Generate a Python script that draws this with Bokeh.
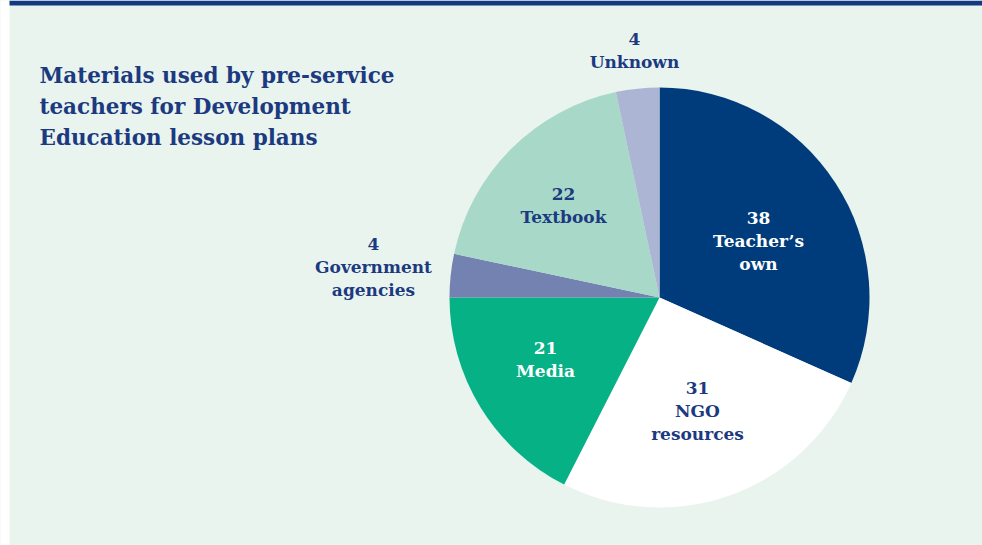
import numpy as np
from bokeh.plotting import figure
from bokeh.models import ColumnDataSource, Range1d
from bokeh.core.properties import value
from bokeh.embed import file_html
from bokeh.resources import INLINE

# ---- data ----
categories = ["Teacher’s own", "NGO resources", "Media", "Government agencies", "Textbook", "Unknown"]
counts = [38, 31, 21, 4, 22, 4]
label_lines = [["Teacher’s", "own"], ["NGO", "resources"], ["Media"],
               ["Government", "agencies"], ["Textbook"], ["Unknown"]]
title_lines = ["Materials used by pre-service", "teachers for Development", "Education lesson plans"]

# ---- styles / layout ----
colors = ["#003C7C", "#FFFFFF", "#05B185", "#7382B1", "#A8D8C8", "#ADB5D5"]
text_colors = ["#FFFFFF", "#1B3A80", "#FFFFFF", "#1B3A80", "#1B3A80", "#1B3A80"]
BG = "#EAF4EF"
NAVY = "#1B3A80"
FONT = "DejaVu Serif"

W, H = 982, 545
OX, OY = 0, 0


def dx(sx):
    return sx - OX


def dy(sy):
    return H - (sy - OY)


# label anchor (screen coords of first line) per category
label_anchor = [(758, 217), (697, 387), (545, 347), (373, 243), (563, 193), (634, 38)]
LINE = 23

p = figure(width=W, height=H, output_backend="svg", toolbar_location=None,
           x_range=Range1d(0, W), y_range=Range1d(0, H),
           min_border=0, background_fill_color=BG, border_fill_color=BG,
           outline_line_color=None)
p.axis.visible = False
p.grid.visible = False

# white left strip and top band
p.quad(left=[0], right=[dx(9)], bottom=[0], top=[H], fill_color="#FFFFFF", line_color=None)
p.quad(left=[dx(9)], right=[W], bottom=[dy(5)], top=[H], fill_color="#13397F", line_color=None)

# pie
vals = np.array(counts, dtype=float)
frac = vals / vals.sum()
cum = np.concatenate([[0], np.cumsum(frac)])
start = np.pi / 2 - cum[:-1] * 2 * np.pi
end = np.pi / 2 - cum[1:] * 2 * np.pi
src = ColumnDataSource(dict(start=start, end=end, color=colors, cat=categories))
p.wedge(x=dx(659), y=dy(297), radius=210, start_angle="start", end_angle="end",
        direction="clock", fill_color="color", line_color=None, source=src)

# labels
xs, ys, txt, tc = [], [], [], []
for i, lines in enumerate(label_lines):
    ax, ay = label_anchor[i]
    all_lines = [str(counts[i])] + lines
    for j, t in enumerate(all_lines):
        xs.append(dx(ax))
        ys.append(dy(ay + j * LINE))
        txt.append(t)
        tc.append(text_colors[i])
lsrc = ColumnDataSource(dict(x=xs, y=ys, text=txt, color=tc))
p.text(x="x", y="y", text="text", source=lsrc, text_color="color",
       text_font=value(FONT), text_font_style="bold", text_font_size="17px",
       text_align="center", text_baseline="middle")

# title
tsrc = ColumnDataSource(dict(x=[dx(39)] * 3, y=[dy(75 + 31 * k) for k in range(3)], text=title_lines))
p.text(x="x", y="y", text="text", source=tsrc, text_color=NAVY,
       text_font=value(FONT), text_font_style="bold", text_font_size="21.5px",
       text_align="left", text_baseline="middle")

open("out.html", "w").write(file_html(p, INLINE))
